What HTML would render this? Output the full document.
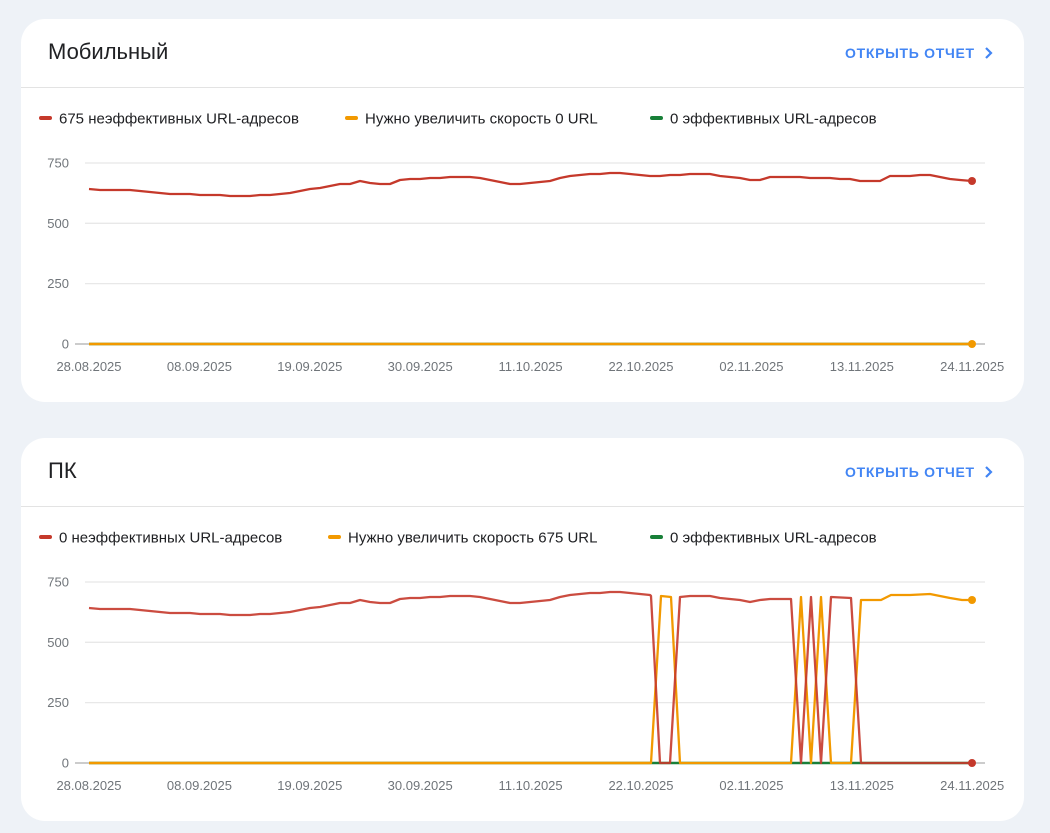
<!DOCTYPE html>
<html><head><meta charset="utf-8"><style>
body{margin:0;width:1050px;height:833px;background:#eef2f7;font-family:"Liberation Sans",sans-serif;position:relative;overflow:hidden}
.card{position:absolute;left:21px;width:1003px;height:383px;background:#fff;border-radius:24px}
.title{position:absolute;left:27px;top:20px;font-size:22px;color:#202124}
.link{position:absolute;left:824px;top:26px;font-size:14px;font-weight:bold;color:#4285f4;letter-spacing:.7px}
.div{position:absolute;left:0;right:0;top:68px;height:1px;background:#e3e3e3}
svg{position:absolute;left:0;top:0}
</style></head><body>
<div class="card" style="top:19px"><div class="title">Мобильный</div><div class="link">ОТКРЫТЬ ОТЧЕТ</div><div class="div"></div></div>
<div class="card" style="top:438px"><div class="title">ПК</div><div class="link">ОТКРЫТЬ ОТЧЕТ</div><div class="div"></div></div>
<svg id="s" width="1050" height="833" font-family="Liberation Sans, sans-serif"></svg>
<script>
var s=document.getElementById('s'),h='';
var red=[[89,189],[100,190],[110,190],[120,190],[130,190],[140,191],[150,192],[160,193],[170,194],[180,194],[190,194],[200,195],[210,195],[220,195],[230,196],[240,196],[250,196],[260,195],[270,195],[280,194],[290,193],[300,191],[310,189],[320,188],[330,186],[340,184],[350,184],[360,181],[370,183],[380,184],[390,184],[400,180],[410,179],[420,179],[430,178],[440,178],[450,177],[460,177],[470,177],[480,178],[490,180],[500,182],[510,184],[520,184],[530,183],[540,182],[550,181],[560,178],[570,176],[580,175],[590,174],[600,174],[610,173],[620,173],[630,174],[640,175],[650,176],[660,176],[670,175],[680,175],[690,174],[700,174],[710,174],[720,176],[730,177],[740,178],[750,180],[760,180],[770,177],[780,177],[790,177],[800,177],[810,178],[820,178],[830,178],[840,179],[850,179],[860,181],[870,181],[880,181],[890,176],[900,176],[910,176],[920,175],[930,175],[940,177],[950,179],[960,180],[972,181]];
function pts(a,dy){return a.map(p=>p[0]+','+(p[1]+dy)).join(' ')}
function axes(top,labs){
 var y0=top+181;
 [0,1,2].forEach(i=>{var y=top+i*60.33;h+='<line x1="85" x2="985" y1="'+y+'" y2="'+y+'" stroke="#e8e8e8" stroke-width="1.3"/>'});
 h+='<line x1="75" x2="985" y1="'+y0+'" y2="'+y0+'" stroke="#999" stroke-width="1"/>';
 ['750','500','250','0'].forEach((t,i)=>{h+='<text x="69" y="'+(top+i*60.33+4.5)+'" font-size="13" fill="#70757a" text-anchor="end">'+t+'</text>'});
 ['28.08.2025','08.09.2025','19.09.2025','30.09.2025','11.10.2025','22.10.2025','02.11.2025','13.11.2025','24.11.2025'].forEach((t,i)=>{h+='<text x="'+(89+i*110.4)+'" y="'+(y0+27)+'" font-size="13" fill="#70757a" text-anchor="middle">'+t+'</text>'});
 var ly=top-45;
 labs.forEach(l=>{h+='<rect x="'+l[0]+'" y="'+(ly-2)+'" width="13" height="4" rx="2" fill="'+l[2]+'"/><text x="'+(l[0]+20)+'" y="'+(ly+5.5)+'" font-size="15" fill="#202124">'+l[1]+'</text>'});
 var cy=top-110;
 h+='<polyline points="986,'+(cy-5)+' 991,'+cy+' 986,'+(cy+5)+'" fill="none" stroke="#4285f4" stroke-width="2.2"/>';
}
axes(163,[[39,'675 неэффективных URL-адресов','#c5392b'],[345,'Нужно увеличить скорость 0 URL','#f29900'],[650,'0 эффективных URL-адресов','#188038']]);
h+='<line x1="89" x2="972" y1="344" y2="344" stroke="#188038" stroke-width="2.5"/>';
h+='<line x1="89" x2="972" y1="344" y2="344" stroke="#f29900" stroke-width="2.5"/>';
h+='<polyline points="'+pts(red,0)+'" fill="none" stroke="#c5392b" stroke-width="2.3" stroke-linejoin="round"/>';
h+='<circle cx="972" cy="181" r="4" fill="#c5392b"/><circle cx="972" cy="344" r="4" fill="#f29900"/>';
axes(582,[[39,'0 неэффективных URL-адресов','#c5392b'],[328,'Нужно увеличить скорость 675 URL','#f29900'],[650,'0 эффективных URL-адресов','#188038']]);
var Z=763,d=419;
var r2=red.filter(p=>p[0]<=650).map(p=>[p[0],p[1]+d]);
r2=r2.concat([[651,596],[660,Z],[670,Z],[680,597],[690,596],[700,596],[710,596],[720,598],[730,599],[740,600],[750,602],[760,600],[770,599],[791,599],[801,Z],[811,597],[821,Z],[831,597],[851,598],[861,Z],[972,Z]]);
var o2=[[89,Z],[651,Z],[661,596],[671,597],[680,Z],[791,Z],[801,597],[811,Z],[821,597],[831,Z],[851,Z],[861,600],[881,600],[891,595],[910,595],[930,594],[950,598],[962,600],[972,600]];
h+='<line x1="89" x2="972" y1="'+Z+'" y2="'+Z+'" stroke="#188038" stroke-width="2.5"/>';
h+='<polyline points="'+pts(o2,0)+'" fill="none" stroke="#f29900" stroke-width="2.3" stroke-linejoin="round"/>';
h+='<polyline points="'+pts(r2,0)+'" fill="none" stroke="#c5392b" stroke-width="2.3" stroke-linejoin="round" stroke-opacity=".9"/>';
h+='<line x1="89" x2="651" y1="'+Z+'" y2="'+Z+'" stroke="#f29900" stroke-width="2.5" stroke-opacity=".6"/>';
h+='<circle cx="972" cy="600" r="4" fill="#f29900"/><circle cx="972" cy="763" r="4" fill="#c5392b"/>';
s.innerHTML=h;
</script>
</body></html>
